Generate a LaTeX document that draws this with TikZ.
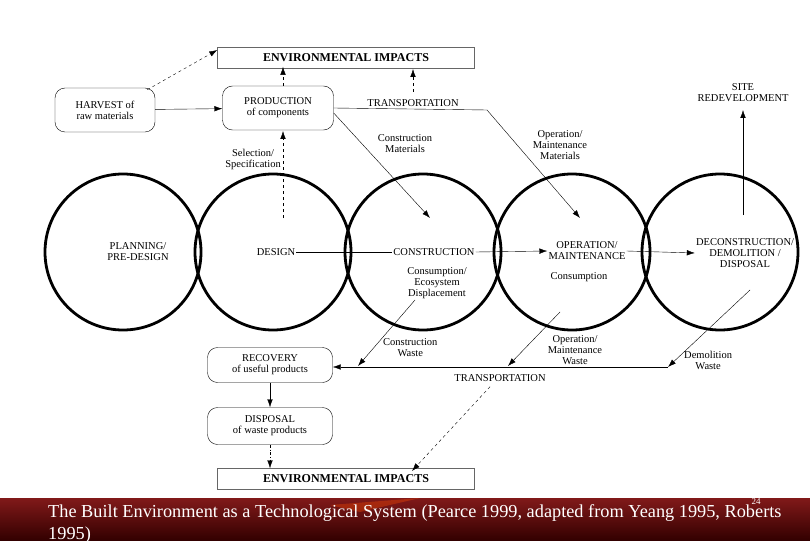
\documentclass[tikz,border=0pt]{standalone}
\usepackage{fontspec}
\setmainfont{Liberation Serif}
\usetikzlibrary{arrows.meta}
\begin{document}
\begin{tikzpicture}[x=1pt,y=-1pt,
  lbl/.style={font=\fontsize{10.5}{11}\selectfont,align=center,inner sep=1pt},
  rbox/.style={draw,rounded corners=10pt,lbl,minimum height=44pt},
  ebox/.style={draw,gray!80!black,text=black,font=\fontsize{12}{12}\selectfont\bfseries,minimum width=257pt,minimum height=21pt},
  circ/.style={draw,line width=2.8pt,circle,minimum size=156pt},
  arr/.style={-{Latex[length=8pt,width=5.5pt]},thin}]
\useasboundingbox (0,0) rectangle (810,540);
\shade[top color=red!45!black!90,bottom color=black!80!red] (0,498) rectangle (810,540);
\fill[orange!60!red,opacity=0.35] (330,505) -- (420,498) -- (360,512) -- cycle;
\node[anchor=west,text=white,font=\fontsize{18.3}{22}\selectfont,align=left,inner sep=0] (cap) at (48,524) {The Built Environment as a Technological System (Pearce 1999, adapted from Yeang 1995, Roberts\\1995)};
\node[text=white,font=\fontsize{9}{9}\selectfont,inner sep=0] (pg) at (756,502) {24};
% circles
\foreach \n/\x in {c1/123,c2/273,c3/423,c4/572,c5/720} \node[circ] (\n) at (\x,252) {};
\node[lbl] (plan) at (138,252) {PLANNING/\\PRE-DESIGN};
\node[lbl] (des) at (276,252) {DESIGN};
\node[lbl] (con) at (434,252) {CONSTRUCTION};
\node[lbl] (cons1) at (437,283) {Consumption/\\Ecosystem\\Displacement};
\node[lbl] (op) at (587,251) {OPERATION/\\MAINTENANCE};
\node[lbl] (cons2) at (579,277) {Consumption};
\node[lbl] (dec) at (745,253) {DECONSTRUCTION/\\DEMOLITION /\\DISPOSAL};
\draw (des.east) -- (con.west);
\draw[arr] (con.east) -- (op.west);
\draw[arr] (op.east) -- (dec.west);
% top
\node[ebox] (env1) at (346,58) {ENVIRONMENTAL IMPACTS};
\node[rbox,minimum width=100pt] (harv) at (105,110) {HARVEST of\\raw materials};
\node[rbox,minimum width=111pt] (prod) at (278,108) {PRODUCTION\\of components};
\draw[arr] (harv) -- (prod);
\draw[arr,dashed] (harv.north east) ++(-8,2) coordinate (h1) -- (env1.west |- 0,50);
\draw[arr,dashed] (prod.north) ++(5,0) -- ++(0,-19);
\node[lbl] (tr1) at (413,103) {TRANSPORTATION};
\coordinate (t1) at (413,92);
\draw[arr,dashed] (t1) -- (413,69);
\coordinate (tr1e) at (487,110);
\draw (prod.east) -- (tr1e);
\coordinate (cm) at (430,218);
\coordinate (om) at (580,218);
\draw[arr] (prod.east) ++(0,5) -- (cm);
\draw[arr] (tr1e) -- (om);
\node[lbl] (cml) at (405,144) {Construction\\Materials};
\node[lbl] (oml) at (560,145) {Operation/\\Maintenance\\Materials};
\coordinate (sel) at (283,218);
\draw[arr,dashed] (sel) -- (283,131);
\node[lbl,anchor=east] (sell) at (282,159) {Selection/\\Specification};
\coordinate (sr) at (743,215);
\draw[arr] (sr) -- (743,110);
\node[lbl] (srl) at (743,93) {SITE\\REDEVELOPMENT};
% bottom
\node[rbox,minimum width=125pt,minimum height=35pt] (rec) at (270,365) {RECOVERY\\of useful products};
\node[rbox,minimum width=125pt,minimum height=37pt] (disp) at (270,426) {DISPOSAL\\of waste products};
\node[ebox] (env2) at (346,479) {ENVIRONMENTAL IMPACTS};
\coordinate (tr2e) at (668,367);
\draw[arr] (tr2e) -- (rec.east |- tr2e);
\coordinate (w1) at (415,300);
\coordinate (w2) at (560,312);
\coordinate (w3) at (750,290);
\draw[arr] (w1) -- (358,366);
\draw[arr] (w2) -- (508,366);
\draw[arr] (w3) -- (tr2e);
\node[lbl,anchor=west] (cwl) at (382,348) {Construction\\Waste};
\node[lbl] (owl) at (575,350) {Operation/\\Maintenance\\Waste};
\node[lbl,anchor=west] (dwl) at (683,360) {Demolition\\Waste};
\node[lbl] (tr2) at (500,378) {TRANSPORTATION};
\draw[arr,dashed] (tr2.south) ++(-10,4) -- (412,471);
\draw[arr] (rec) -- (disp);
\draw[arr,dash dot] (disp.south) -- (env2.north -| disp.south);
\end{tikzpicture}
\end{document}
